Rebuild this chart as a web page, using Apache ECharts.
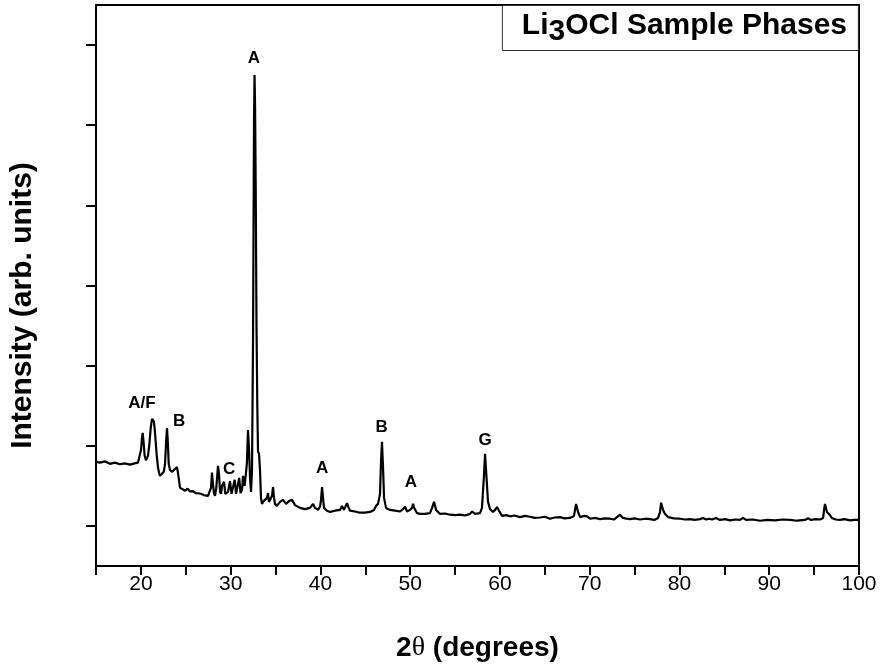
<!DOCTYPE html>
<html>
<head>
<meta charset="utf-8">
<script src="https://cdn.jsdelivr.net/npm/echarts@6/dist/echarts.min.js"></script>
<style>
  html, body { margin: 0; padding: 0; background: #fff; }
  #chart { width: 884px; height: 669px; }
</style>
</head>
<body>
<div id="chart"></div>
<script>
// 2theta (degrees)
var twoTheta = [
    15.0, 15.45, 16.0, 16.56, 17.1, 17.67, 18.2, 18.79, 19.3, 19.68,
    19.90, 20.02, 20.12, 20.20, 20.30, 20.42, 20.57, 20.79, 20.95, 21.10,
    21.24, 21.35, 21.46, 21.60, 21.75, 21.91, 22.05, 22.13, 22.35, 22.55,
    22.69, 22.80, 22.91, 23.00, 23.10, 23.24, 23.45, 23.58, 23.80, 24.02,
    24.15, 24.36, 24.6, 24.92, 25.2, 25.47, 25.8, 26.1, 26.59, 27.0,
    27.48, 27.70, 27.81, 27.92, 28.03, 28.15, 28.26, 28.40, 28.59, 28.70,
    28.82, 28.93, 29.04, 29.26, 29.40, 29.60, 29.71, 29.93, 30.10, 30.30,
    30.45, 30.60, 30.80, 30.95, 31.10, 31.27, 31.38, 31.55, 31.70, 31.82,
    31.93, 32.05, 32.16, 32.27, 32.38, 32.49, 32.60, 32.66, 32.72, 32.80,
    32.88, 32.97, 33.05, 33.16, 33.27, 33.38, 33.49, 33.61, 33.83, 34.05,
    34.16, 34.27, 34.45, 34.61, 34.72, 34.83, 34.94, 35.16, 35.50, 35.83,
    36.17, 36.50, 36.84, 37.17, 37.73, 38.28, 38.84, 39.18, 39.40, 39.73,
    39.96, 40.07, 40.18, 40.29, 40.40, 40.73, 41.07, 41.63, 42.18, 42.41,
    42.63, 42.96, 43.15, 43.30, 43.85, 44.41, 44.97, 45.53, 45.97, 46.19,
    46.42, 46.64, 46.75, 46.86, 46.97, 47.09, 47.31, 47.75, 48.31, 48.87,
    49.20, 49.43, 49.65, 49.98, 50.20, 50.32, 50.45, 50.76, 51.10, 51.65,
    52.21, 52.44, 52.66, 52.89, 53.33, 53.88, 54.44, 55.00, 55.55, 56.11,
    56.67, 56.89, 57.22, 57.78, 58.00, 58.23, 58.34, 58.45, 58.67, 58.90,
    59.23, 59.46, 59.68, 59.90, 60.23, 60.7, 61.12, 61.6, 62.24, 62.8,
    63.35, 63.9, 64.47, 65.0, 65.58, 66.1, 66.69, 67.2, 67.81, 68.25,
    68.48, 68.70, 68.93, 69.37, 69.70, 70.04, 70.6, 71.15, 71.7, 72.26,
    72.7, 73.04, 73.38, 73.71, 74.1, 74.49, 75.0, 75.61, 76.2, 76.72,
    77.2, 77.61, 77.84, 77.95, 78.06, 78.17, 78.39, 78.73, 79.4, 80.06,
    80.6, 81.18, 81.7, 82.29, 82.62, 82.96, 83.3, 83.63, 84.07, 84.51,
    85.1, 85.63, 86.2, 86.75, 87.08, 87.41, 88.2, 88.97, 89.8, 90.64,
    91.5, 92.32, 93.1, 93.99, 94.32, 94.66, 95.2, 95.66, 96.00, 96.11,
    96.21, 96.32, 96.43, 96.65, 96.98, 97.4, 97.88, 98.4, 98.99, 99.5,
    100.0
];
// intensity (arb. units)
var intensity = [
    2.60, 2.58, 2.61, 2.55, 2.58, 2.54, 2.56, 2.53, 2.56, 2.58,
    2.62, 2.90, 3.20, 3.32, 3.10, 2.75, 2.64, 2.75, 3.05, 3.45,
    3.67, 3.67, 3.60, 3.25, 2.80, 2.45, 2.30, 2.25, 2.30, 2.35,
    2.55, 3.05, 3.44, 3.10, 2.55, 2.40, 2.35, 2.38, 2.42, 2.47,
    2.30, 1.95, 1.92, 1.88, 1.93, 1.86, 1.87, 1.82, 1.81, 1.77,
    1.75, 1.76, 1.95, 2.33, 2.05, 1.80, 1.75, 1.95, 2.50, 2.30,
    1.85, 1.80, 2.00, 2.10, 1.80, 1.78, 1.85, 2.12, 1.80, 1.77,
    2.15, 1.80, 1.78, 2.20, 1.82, 1.90, 2.25, 2.00, 2.30, 2.60,
    3.39, 2.90, 2.20, 1.85, 2.40, 5.50, 11.0, 12.25, 11.5, 9.2,
    6.0, 4.0, 2.85, 2.80, 2.40, 1.70, 1.55, 1.60, 1.58, 1.70,
    1.82, 1.60, 1.68, 1.75, 1.97, 1.70, 1.55, 1.50, 1.60, 1.65,
    1.55, 1.62, 1.65, 1.52, 1.45, 1.42, 1.45, 1.55, 1.45, 1.40,
    1.48, 1.65, 1.97, 1.70, 1.45, 1.38, 1.35, 1.38, 1.40, 1.50,
    1.40, 1.57, 1.45, 1.38, 1.36, 1.33, 1.33, 1.35, 1.40, 1.50,
    1.55, 1.80, 2.60, 3.10, 2.50, 1.70, 1.45, 1.40, 1.38, 1.36,
    1.42, 1.48, 1.36, 1.40, 1.45, 1.55, 1.45, 1.32, 1.30, 1.30,
    1.32, 1.45, 1.60, 1.40, 1.30, 1.31, 1.28, 1.27, 1.28, 1.26,
    1.30, 1.36, 1.30, 1.32, 1.45, 2.30, 2.80, 2.40, 1.60, 1.42,
    1.35, 1.40, 1.47, 1.38, 1.25, 1.27, 1.24, 1.26, 1.22, 1.25,
    1.23, 1.20, 1.21, 1.23, 1.18, 1.21, 1.22, 1.19, 1.20, 1.25,
    1.55, 1.35, 1.22, 1.25, 1.24, 1.18, 1.20, 1.17, 1.19, 1.18,
    1.16, 1.22, 1.28, 1.20, 1.18, 1.17, 1.19, 1.16, 1.18, 1.17,
    1.15, 1.20, 1.35, 1.58, 1.60, 1.40, 1.30, 1.22, 1.19, 1.18,
    1.16, 1.17, 1.15, 1.17, 1.20, 1.16, 1.18, 1.16, 1.20, 1.15,
    1.17, 1.14, 1.16, 1.15, 1.20, 1.15, 1.16, 1.13, 1.15, 1.14,
    1.16, 1.15, 1.13, 1.15, 1.19, 1.15, 1.17, 1.16, 1.20, 1.40,
    1.55, 1.52, 1.35, 1.30, 1.20, 1.16, 1.15, 1.17, 1.14, 1.15,
    1.15
];
// phase labels placed at data positions
var labelText = ['A/F', 'B', 'C', 'A', 'A', 'B', 'A', 'G'];
var labelTheta = [20.12, 24.25, 29.82, 32.60, 40.18, 46.81, 50.09, 58.34];
var labelPos = [4.07, 3.62, 2.42, 12.68, 2.45, 3.47, 2.10, 3.14];

var box = document.getElementById('chart');
var myChart = echarts.init(box);

var seriesData = [];
twoTheta.forEach(function (t, i) {
    seriesData.push([t, intensity[i]]);
});
var marks = [];
labelText.forEach(function (txt, i) {
    marks.push({ name: txt, coord: [labelTheta[i], labelPos[i]] });
});

var font = 'Liberation Sans, Arial, sans-serif';

var options = {
    animation: false,
    backgroundColor: '#fff',
    title: {
        text: '{n|Li}{s|3}{n|OCl Sample Phases}',
        right: 25,
        top: 5,
        padding: [6, 12, 4, 20],
        borderColor: '#333',
        borderWidth: 1,
        textStyle: {
            rich: {
                n: { fontFamily: font, fontSize: 30, fontWeight: 'bold', color: '#000', lineHeight: 36, verticalAlign: 'top' },
                s: { fontFamily: font, fontSize: 30, fontWeight: 'bold', color: '#000', lineHeight: 36, verticalAlign: 'bottom', padding: [5, 0, 0, 0] }
            }
        }
    },
    grid: {
        left: 96,
        right: 25,
        top: 5,
        bottom: 103,
        show: true,
        borderColor: '#000',
        borderWidth: 2
    },
    xAxis: {
        type: 'value',
        min: 15,
        max: 100,
        interval: 5,
        name: '{b|2}{t|θ}{b| (degrees)}',
        nameLocation: 'middle',
        nameGap: 68,
        nameTextStyle: {
            rich: {
                b: { fontFamily: font, fontSize: 28, fontWeight: 'bold', color: '#000' },
                t: { fontFamily: 'Liberation Serif, serif', fontSize: 28, color: '#000' }
            }
        },
        axisLine: { lineStyle: { color: '#000', width: 2 } },
        axisTick: { length: 9, lineStyle: { color: '#000', width: 2 } },
        axisLabel: {
            margin: 8,
            fontFamily: font,
            fontSize: 21,
            color: '#000',
            formatter: function (v) {
                return (v % 10 === 0) ? String(v) : '';
            }
        },
        splitLine: { show: false }
    },
    yAxis: {
        type: 'value',
        min: 0,
        max: 14,
        interval: 2,
        name: 'Intensity (arb. units)',
        nameLocation: 'middle',
        nameGap: 58,
        nameTextStyle: {
            fontFamily: font,
            fontSize: 30,
            fontWeight: 'bold',
            color: '#000',
            padding: [0, 40, 0, 0]
        },
        axisLine: { lineStyle: { color: '#000', width: 2 } },
        axisTick: { show: false },
        minorTick: { show: true, splitNumber: 2, length: 10, lineStyle: { color: '#000', width: 2 } },
        axisLabel: { show: false },
        splitLine: { show: false },
        minorSplitLine: { show: false }
    },
    series: [
        {
            type: 'line',
            data: seriesData,
            showSymbol: false,
            lineStyle: { color: '#000', width: 2.2 },
            itemStyle: { color: '#000' },
            markPoint: {
                symbol: 'circle',
                symbolSize: 0,
                data: marks,
                label: {
                    show: true,
                    position: 'inside',
                    formatter: '{b}',
                    fontFamily: font,
                    fontSize: 17,
                    fontWeight: 'bold',
                    color: '#000'
                }
            }
        }
    ]
};
myChart.setOption(options);
</script>
</body>
</html>
